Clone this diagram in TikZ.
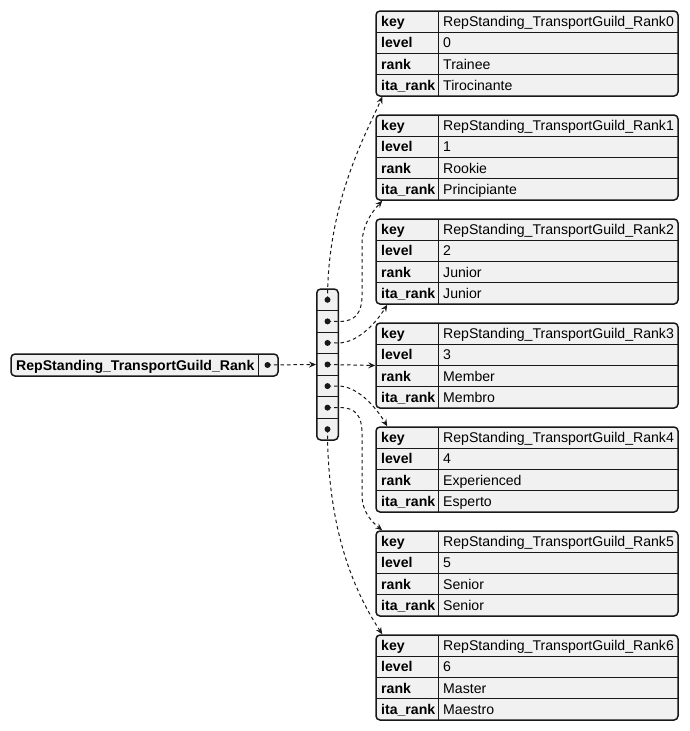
\documentclass[tikz,border=0pt]{standalone}
\usepackage{fontspec}
\setmainfont{Liberation Sans}
\usetikzlibrary{arrows.meta}

\definecolor{cellgray}{HTML}{F1F1F1}
\definecolor{linegray}{HTML}{181818}

\tikzset{
  tbl/.style={draw=linegray, line width=1.5pt, fill=cellgray, rounded corners=4pt, inner sep=0pt, minimum width=302pt, minimum height=85pt},
  rowline/.style={draw=linegray, line width=1pt},
  cell/.style={anchor=west, inner sep=0pt, text height=10pt, text depth=0pt, font=\fontsize{14.1}{16}\selectfont},
  keycell/.style={cell, font=\fontsize{14.1}{16}\selectfont\bfseries},
  dot/.style={circle, fill=linegray, inner sep=0pt, minimum size=6pt},
  link/.style={draw=linegray, line width=1pt, dash pattern=on 3.5pt off 3pt, -{Stealth[length=7pt,width=6pt,inset=2.5pt]}}
}

\begin{document}
\begin{tikzpicture}[x=1pt,y=-1pt]
				\useasboundingbox (0,0) rectangle (689,731);

				% root entry
				\node [tbl, minimum width=267pt, minimum height=22pt] (root) at (144.5, 365) {};
				\draw [rowline] (258, 354) -- (258, 376);
				\node [keycell] (rootlabel) at (16, 365) {RepStanding\_TransportGuild\_Rank};
				\node [dot] (rootdot) at (267.5, 365) {};

				% array
				\node [tbl, minimum width=21.5pt, minimum height=151pt] (arr) at (327.5, 364.5) {};
				\foreach \c in {1,...,6}
				{
					\draw [rowline] (317, {289+21.57*\c}) -- (338, {289+21.57*\c});
				}
				\foreach \c in {0,...,6}
				{
					\node [dot] (a\c) at (327.5, {299.8+21.57*\c}) {};
				}

				% tables
				\foreach \i/\rk/\it in {0/Trainee/Tirocinante, 1/Rookie/Principiante, 2/Junior/Junior, 3/Member/Membro, 4/Experienced/Esperto, 5/Senior/Senior, 6/Master/Maestro}
				{
					\pgfmathsetmacro{\T}{11+104*\i}
					\node [tbl] (t\i) at (527, {\T+42.5}) {};
					\foreach \r in {1,2,3}
					{
						\draw [rowline] (376, {\T+21.25*\r}) -- (678, {\T+21.25*\r});
					}
					\draw [rowline] (438, \T) -- (438, {\T+85});
					\foreach \r/\k in {0/key, 1/level, 2/rank, 3/ita\_rank}
					{
						\node [keycell] (k\i\r) at (381, {\T+21.25*\r+10.6}) {\k};
					}
					\node [cell] (v\i0) at (443, {\T+10.6}) {RepStanding\_TransportGuild\_Rank\i};
					\node [cell] (v\i1) at (443, {\T+31.9}) {\i};
					\node [cell] (v\i2) at (443, {\T+53.1}) {\rk};
					\node [cell] (v\i3) at (443, {\T+74.4}) {\it};
				}

				% links
				\draw [link] (rootdot.center) -- (arr.west);
				\draw [link] (a0.center) .. controls (327.5,200) and (368,130) .. ([xshift=7pt]t0.south west);
				\draw [link] (a1.center) -- (340,321.4) .. controls (356,321.4) and (362,312) .. (362,295) -- (362,245) .. controls (362,225) and (372,212) .. ([xshift=7pt]t1.south west);
				\draw [link] (a2.center) -- (338,343) .. controls (356,343) and (374,326) .. ([xshift=12pt]t2.south west);
				\draw [link] (a3.center) -- (t3.west);
				\draw [link] (a4.center) -- (338,386) .. controls (356,386) and (374,404) .. ([xshift=12pt]t4.north west);
				\draw [link] (a5.center) -- (340,407.6) .. controls (356,407.6) and (362,416) .. (362,434) -- (362,495) .. controls (362,512) and (372,522) .. ([xshift=7pt]t5.north west);
				\draw [link] (a6.center) .. controls (327.5,540) and (360,600) .. ([xshift=7pt]t6.north west);
		\end{tikzpicture}
\end{document}
